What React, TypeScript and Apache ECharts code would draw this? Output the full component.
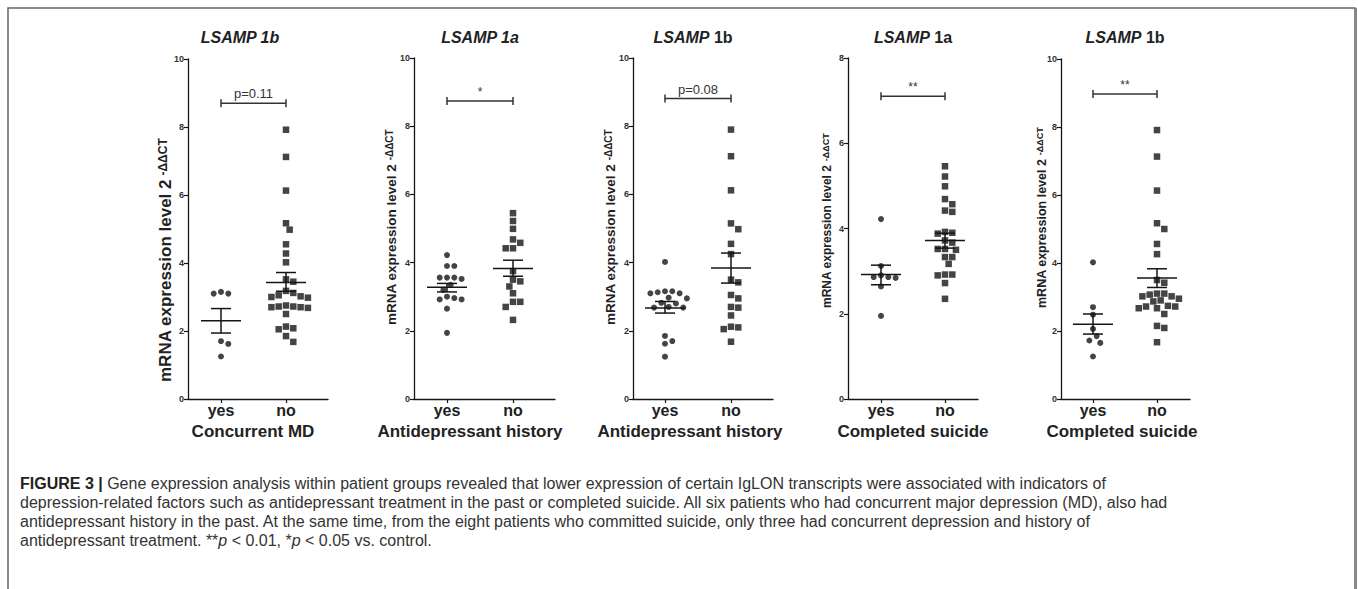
import React, { useEffect, useRef } from "react";
import * as echarts from "echarts";

const FONT = "'Liberation Sans', Arial, Helvetica, sans-serif";

// ---------- texts ----------
const categories = ["yes", "no"];
const panelTitles = [
  "{i|LSAMP 1b}",
  "{i|LSAMP 1a}",
  "{i|LSAMP} {b|1b}",
  "{i|LSAMP} {b|1a}",
  "{i|LSAMP} {b|1b}",
];
const xAxisNames = [
  "Concurrent MD",
  "Antidepressant history",
  "Antidepressant history",
  "Completed suicide",
  "Completed suicide",
];
const yAxisLabelMain = "mRNA expression level 2";
const yAxisLabelSup = "-ΔΔCT";
const yAxisMax = [10, 10, 10, 8, 10];
const yTickStep = 2;
const sigText = ["p=0.11", "*", "p=0.08", "**", "**"];
const sigLevel = [8.7, 8.74, 8.81, 7.1, 8.97];

const captionLines = [
  "{b|FIGURE 3 |} Gene expression analysis within patient groups revealed that lower expression of certain IgLON transcripts were associated with indicators of",
  "depression-related factors such as antidepressant treatment in the past or completed suicide. All six patients who had concurrent major depression (MD), also had",
  "antidepressant history in the past. At the same time, from the eight patients who committed suicide, only three had concurrent depression and history of",
  "antidepressant treatment. **{i|p} < 0.01, *{i|p} < 0.05 vs. control.",
];

// ---------- values ----------
// Panel 1: LSAMP 1b, Concurrent MD
const mdYes1b = [3.15, 3.1, 3.1, 1.7, 1.62, 1.25];
const mdNo1b = [7.92, 7.12, 6.13, 5.17, 4.98, 4.55, 4.28, 4.02, 3.52, 3.45, 3.18, 3.12, 3.05, 3.02, 3.0, 2.98, 2.75, 2.7, 2.72, 2.72, 2.7, 2.68, 2.5, 2.13, 2.08, 2.05, 1.85, 1.68];
// Panel 2: LSAMP 1a, Antidepressant history
const adYes1a = [4.22, 3.9, 3.9, 3.56, 3.52, 3.56, 3.56, 3.35, 3.2, 2.92, 2.92, 2.96, 3.0, 2.65, 1.94];
const adNo1a = [5.45, 5.22, 4.99, 4.68, 4.58, 4.42, 4.42, 3.75, 3.5, 3.45, 3.3, 3.1, 2.85, 2.85, 2.7, 2.32];
// Panel 3: LSAMP 1b, Antidepressant history
const adYes1b = [4.02, 3.1, 3.13, 3.16, 3.16, 3.1, 2.97, 2.95, 2.82, 2.8, 2.7, 2.68, 2.68, 1.85, 1.7, 1.62, 1.24];
const adNo1b = [7.9, 7.12, 6.12, 5.15, 4.98, 4.55, 4.25, 3.5, 3.42, 3.05, 2.95, 2.7, 2.68, 2.45, 2.1, 2.05, 2.12, 1.68];
// Panel 4: LSAMP 1a, Completed suicide
const suYes1a = [4.22, 3.12, 2.86, 2.84, 2.86, 2.9, 2.64, 1.95];
const suNo1a = [5.46, 5.22, 4.99, 4.69, 4.57, 4.42, 4.39, 3.92, 3.9, 3.88, 3.72, 3.67, 3.52, 3.5, 3.52, 3.33, 3.33, 3.17, 2.92, 2.92, 2.9, 2.72, 2.35];
// Panel 5: LSAMP 1b, Completed suicide
const suYes1b = [4.02, 2.7, 2.48, 2.06, 1.85, 1.72, 1.65, 1.25];
const suNo1b = [7.91, 7.13, 6.13, 5.17, 5.0, 4.56, 4.26, 3.5, 3.42, 3.1, 3.02, 3.1, 3.02, 3.07, 2.95, 2.9, 2.87, 2.74, 2.67, 2.72, 2.67, 2.72, 2.5, 2.15, 2.09, 1.67];

// mean and SEM (yes, no) per panel
const groupMean = [[2.3, 3.43], [3.28, 3.83], [2.67, 3.84], [2.92, 3.72], [2.2, 3.56]];
const groupSemHigh = [[2.66, 3.72], [3.39, 4.07], [2.86, 4.28], [3.14, 3.89], [2.5, 3.83]];
const groupSemLow = [[1.94, 3.17], [3.14, 3.6], [2.52, 3.4], [2.68, 3.54], [1.91, 3.28]];

const yesGroups = [mdYes1b, adYes1a, adYes1b, suYes1a, suYes1b];
const noGroups = [mdNo1b, adNo1a, adNo1b, suNo1a, suNo1b];

// ---------- layout (pixels) ----------
const layout = [
  { axisX: 188, yesX: 221, noX: 286, endX: 328, top: 59, bottom: 399, titleX: 240, nameX: 253, yLabX: 165, yLabY: 382, yLabSize: 17 },
  { axisX: 414, yesX: 447, noX: 513, endX: 555, top: 58, bottom: 399, titleX: 480, nameX: 470, yLabX: 391, yLabY: 325, yLabSize: 13.5 },
  { axisX: 633, yesX: 665, noX: 731, endX: 773, top: 58, bottom: 399, titleX: 693, nameX: 690, yLabX: 610, yLabY: 325, yLabSize: 13.5 },
  { axisX: 848, yesX: 881, noX: 945, endX: 978, top: 58, bottom: 399, titleX: 913, nameX: 913, yLabX: 827, yLabY: 308, yLabSize: 12 },
  { axisX: 1061, yesX: 1093, noX: 1157, endX: 1190, top: 59, bottom: 399, titleX: 1125, nameX: 1122, yLabX: 1042, yLabY: 308, yLabSize: 12.5 },
];

const INK = "#151515";
const TEXT = "#222";

// beeswarm-style horizontal spread, in x data units
function swarmOffsets(vals: number[], xPx: number, yPx: number, d: number): number[] {
  const order = vals.map((_, i) => i).sort((a, b) => vals[b] - vals[a]);
  const placed: { x: number; y: number }[] = [];
  const out = new Array(vals.length).fill(0);
  for (const i of order) {
    const y = vals[i] * yPx;
    let best = 0;
    for (let k = 0; k < 60; k++) {
      const n = Math.ceil(k / 2);
      const cand = k === 0 ? 0 : (k % 2 === 1 ? n : -n) * (d / 2);
      if (placed.every((p) => (p.x - cand) ** 2 + (p.y - y) ** 2 >= d * d)) {
        best = cand;
        break;
      }
    }
    placed.push({ x: best, y });
    out[i] = best / xPx;
  }
  return out;
}

function buildOption() {
  const grid: any[] = [];
  const xAxis: any[] = [];
  const yAxis: any[] = [];
  const series: any[] = [];
  const graphic: any[] = [];

  layout.forEach((L, p) => {
    const xPx = L.noX - L.yesX;
    const yPx = (L.bottom - L.top) / yAxisMax[p];
    const xmin = 1 - (L.yesX - L.axisX) / xPx;
    const xmax = xmin + (L.endX - L.axisX) / xPx;
    grid.push({
      left: L.axisX,
      top: L.top,
      width: L.endX - L.axisX,
      height: L.bottom - L.top,
      containLabel: false,
      outerBoundsMode: "none",
    });
    xAxis.push({
      type: "value",
      gridIndex: p,
      min: xmin,
      max: xmax,
      splitLine: { show: false },
      axisLine: { show: true, onZero: false, lineStyle: { color: INK, width: 1.3 } },
      axisTick: { show: true, customValues: [1, 2], length: 4, lineStyle: { color: INK, width: 1.2 } },
      axisLabel: {
        show: true,
        customValues: [1, 2],
        formatter: (v: number) => categories[Math.round(v) - 1] ?? "",
        fontFamily: FONT,
        fontSize: 16,
        fontWeight: "bold",
        color: TEXT,
        margin: 3,
      },
    });
    yAxis.push({
      type: "value",
      gridIndex: p,
      min: 0,
      max: yAxisMax[p],
      interval: yTickStep,
      splitLine: { show: false },
      axisLine: { show: true, onZero: false, lineStyle: { color: INK, width: 1.3 } },
      axisTick: { show: true, length: 4, lineStyle: { color: INK, width: 1.2 } },
      axisLabel: { fontFamily: FONT, fontSize: 9, fontWeight: "bold", color: "#333", margin: 4 },
    });

    const d = 7.3;
    const yesOff = swarmOffsets(yesGroups[p], xPx, yPx, d);
    const noOff = swarmOffsets(noGroups[p], xPx, yPx, d);
    series.push({
      type: "scatter",
      xAxisIndex: p,
      yAxisIndex: p,
      symbol: "circle",
      symbolSize: 6,
      itemStyle: { color: INK },
      data: yesGroups[p].map((v, i) => [1 + yesOff[i], v]),
      z: 3,
    });
    series.push({
      type: "scatter",
      xAxisIndex: p,
      yAxisIndex: p,
      symbol: "rect",
      symbolSize: 6.5,
      itemStyle: { color: INK },
      data: noGroups[p].map((v, i) => [2 + noOff[i], v]),
      z: 3,
    });
    // mean ± SEM
    series.push({
      type: "custom",
      xAxisIndex: p,
      yAxisIndex: p,
      clip: false,
      z: 5,
      data: [0, 1].map((g) => [g + 1, groupMean[p][g], groupSemHigh[p][g], groupSemLow[p][g]]),
      renderItem: (params: any, api: any) => {
        const x = api.value(0);
        const pm = api.coord([x, api.value(1)]);
        const ph = api.coord([x, api.value(2)]);
        const pl = api.coord([x, api.value(3)]);
        const st = { stroke: INK, lineWidth: 1.5, fill: "none" };
        return {
          type: "group",
          children: [
            { type: "line", shape: { x1: pm[0] - 20, y1: pm[1], x2: pm[0] + 20, y2: pm[1] }, style: st },
            { type: "line", shape: { x1: ph[0], y1: ph[1], x2: pl[0], y2: pl[1] }, style: st },
            { type: "line", shape: { x1: ph[0] - 10, y1: ph[1], x2: ph[0] + 10, y2: ph[1] }, style: st },
            { type: "line", shape: { x1: pl[0] - 10, y1: pl[1], x2: pl[0] + 10, y2: pl[1] }, style: st },
          ],
        };
      },
    });
    // significance bracket
    series.push({
      type: "custom",
      xAxisIndex: p,
      yAxisIndex: p,
      clip: false,
      z: 5,
      data: [[1, 2, sigLevel[p]]],
      renderItem: (params: any, api: any) => {
        const a = api.coord([api.value(0), api.value(2)]);
        const b = api.coord([api.value(1), api.value(2)]);
        const st = { stroke: "#333", lineWidth: 1.5, fill: "none" };
        return {
          type: "group",
          children: [
            { type: "line", shape: { x1: a[0], y1: a[1], x2: b[0], y2: b[1] }, style: st },
            { type: "line", shape: { x1: a[0], y1: a[1] - 4, x2: a[0], y2: a[1] + 4 }, style: st },
            { type: "line", shape: { x1: b[0], y1: b[1] - 4, x2: b[0], y2: b[1] + 4 }, style: st },
            {
              type: "text",
              x: (a[0] + b[0]) / 2,
              y: a[1] - 3,
              style: {
                text: sigText[p],
                fill: "#333",
                font: `${sigText[p].startsWith("p") ? 13 : 12}px ${FONT}`,
                align: "center",
                verticalAlign: "bottom",
                textAlign: "center",
                textVerticalAlign: "bottom",
              },
            },
          ],
        };
      },
    });

    // title
    graphic.push({
      type: "text",
      x: L.titleX,
      y: 37,
      style: {
        text: panelTitles[p],
        textAlign: "center",
        textVerticalAlign: "middle",
        fontFamily: FONT,
        fontSize: 16,
        fill: TEXT,
        rich: {
          i: { fontFamily: FONT, fontSize: 16, fontWeight: "bold", fontStyle: "italic", fill: TEXT },
          b: { fontFamily: FONT, fontSize: 16, fontWeight: "bold", fill: TEXT },
        },
      },
    });
    // x axis name
    graphic.push({
      type: "text",
      x: L.nameX,
      y: 431,
      style: {
        text: xAxisNames[p],
        textAlign: "center",
        textVerticalAlign: "middle",
        fontFamily: FONT,
        fontSize: 17,
        fontWeight: "bold",
        fill: TEXT,
      },
    });
    // y axis name (rotated)
    graphic.push({
      type: "text",
      x: L.yLabX,
      y: L.yLabY,
      rotation: Math.PI / 2,
      style: {
        text: `{m|${yAxisLabelMain}} {s|${yAxisLabelSup}}`,
        textAlign: "left",
        textVerticalAlign: "middle",
        fontFamily: FONT,
        fill: TEXT,
        rich: {
          m: { fontFamily: FONT, fontSize: L.yLabSize, fontWeight: "bold", fill: TEXT, verticalAlign: "bottom" },
          s: { fontFamily: FONT, fontSize: Math.round(L.yLabSize * 0.72), fontWeight: "bold", fill: TEXT, verticalAlign: "top" },
        },
      },
    });
  });

  // frame
  graphic.push({
    type: "rect",
    shape: { x: 8, y: 8, width: 1347, height: 620 },
    style: { fill: "none", stroke: "#666", lineWidth: 1.5 },
    z: 0,
  });
  graphic.push({
    type: "line",
    shape: { x1: 1356, y1: 8, x2: 1356, y2: 620 },
    style: { stroke: "#888", lineWidth: 2 },
  });

  // caption
  captionLines.forEach((line, i) => {
    graphic.push({
      type: "text",
      x: 20,
      y: 483 + i * 19,
      style: {
        text: line,
        textAlign: "left",
        textVerticalAlign: "middle",
        fontFamily: FONT,
        fontSize: 16,
        fill: "#333",
        rich: {
          b: { fontFamily: FONT, fontSize: 16, fontWeight: "bold", fill: "#222" },
          i: { fontFamily: FONT, fontSize: 16, fontStyle: "italic", fill: "#333" },
        },
      },
    });
  });

  return {
    animation: false,
    backgroundColor: "#fff",
    grid,
    xAxis,
    yAxis,
    series,
    graphic,
  };
}

export default function App() {
  const ref = useRef<HTMLDivElement>(null);
  useEffect(() => {
    const chart = echarts.init(ref.current!, null, { renderer: "svg" });
    chart.setOption(buildOption() as any);
    return () => chart.dispose();
  }, []);
  return (
    <div
      ref={ref}
      style={{ position: "absolute", left: 0, top: 0, width: 1358, height: 589, background: "#fff" }}
    />
  );
}
